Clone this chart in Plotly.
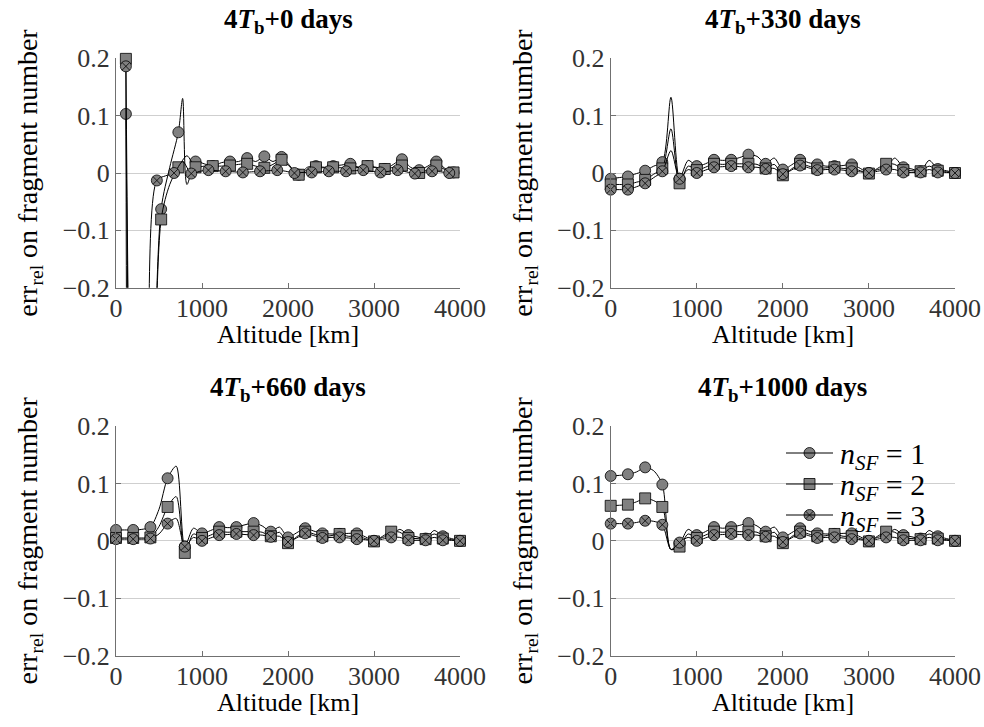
import plotly.graph_objects as go

# ---------------- data ----------------
alt_grid = list(range(0, 4001, 100))  # TR, BL, BR panels

# Top-left panel (4T_b + 0 days)
tl_x_s1 = [115, 225, 325, 425, 525, 625, 725, 775, 825, 925,
           1025, 1125, 1225, 1325, 1425, 1525, 1625, 1725, 1825, 1925,
           2025, 2125, 2225, 2325, 2425, 2525, 2625, 2725, 2825, 2925,
           3025, 3125, 3225, 3325, 3425, 3525, 3625, 3725, 3825, 3925]
tl_y_s1 = [0.103, -1.0, -1.2, -0.50, -0.063, 0.010, 0.071, 0.130, -0.020, 0.020,
           0.016, 0.012, 0.018, 0.020, 0.020, 0.026, 0.020, 0.029, 0.020, 0.028,
           0.012, -0.003, 0.010, 0.012, 0.010, 0.012, 0.014, 0.016, 0.010, 0.012,
           0.010, 0.007, 0.015, 0.024, 0.010, 0.005, 0.012, 0.020, 0.008, 0.001]
tl_m_s1 = [1, 0, 1, 0, 1, 0, 1, 0, 0, 1,
           0, 1, 0, 1, 0, 1, 0, 1, 0, 1,
           0, 1, 0, 1, 0, 1, 0, 1, 0, 1,
           0, 1, 0, 1, 0, 1, 0, 1, 0, 1]
tl_x_s2 = [115, 225, 325, 425, 525, 625, 725, 825, 925,
           1025, 1125, 1225, 1325, 1425, 1525, 1625, 1725, 1825, 1925,
           2025, 2125, 2225, 2325, 2425, 2525, 2625, 2725, 2825, 2925,
           3025, 3125, 3225, 3325, 3425, 3525, 3625, 3725, 3825, 3925]
tl_y_s2 = [0.199, -1.0, -1.2, -0.60, -0.081, -0.020, 0.010, 0.030, 0.010,
           0.012, 0.012, 0.012, 0.013, 0.015, 0.016, 0.012, 0.009, 0.015, 0.023,
           0.010, -0.003, 0.006, 0.010, 0.009, 0.010, 0.009, 0.008, 0.010, 0.012,
           0.009, 0.007, 0.010, 0.013, 0.006, 0.000, 0.006, 0.013, 0.006, 0.001]
tl_x_s3 = [115, 175, 275, 375, 475, 575, 675, 775, 875, 975,
           1075, 1175, 1275, 1375, 1475, 1575, 1675, 1775, 1875, 1975,
           2075, 2175, 2275, 2375, 2475, 2575, 2675, 2775, 2875, 2975,
           3075, 3175, 3275, 3375, 3475, 3575, 3675, 3775, 3875]
tl_y_s3 = [0.186, -1.0, -1.2, -0.60, -0.013, -0.005, 0.000, 0.020, -0.001, 0.003,
           0.005, 0.004, 0.003, 0.002, 0.001, 0.002, 0.003, 0.004, 0.005, 0.003,
           0.000, 0.001, 0.001, 0.002, 0.003, 0.003, 0.003, 0.004, 0.005, 0.003,
           0.001, 0.003, 0.005, 0.002, -0.001, 0.001, 0.003, 0.002, 0.000]

# Top-right panel (4T_b + 330 days)
tr_s1 = [-0.010, -0.008, -0.006, -0.001, 0.004, 0.012, 0.019, 0.132, -0.010, 0.022,
         0.012, 0.016, 0.023, 0.022, 0.023, 0.027, 0.032, 0.029, 0.016, 0.026,
         0.006, 0.014, 0.023, 0.018, 0.015, 0.012, 0.012, 0.013, 0.015, 0.008,
         0.000, 0.006, 0.009, 0.026, 0.010, 0.007, 0.003, 0.022, 0.007, 0.004, 0.000]
tr_s2 = [-0.020, -0.020, -0.020, -0.016, -0.012, -0.002, 0.008, 0.077, -0.018, 0.012,
         0.005, 0.010, 0.016, 0.015, 0.016, 0.016, 0.016, 0.015, 0.008, 0.015,
         -0.004, 0.007, 0.016, 0.012, 0.008, 0.009, 0.010, 0.008, 0.008, 0.004,
         -0.001, 0.008, 0.016, 0.015, 0.005, 0.004, 0.003, 0.012, 0.004, 0.002, 0.000]
tr_s3 = [-0.029, -0.029, -0.029, -0.024, -0.018, -0.008, 0.003, 0.039, -0.010, 0.006,
         0.000, 0.005, 0.010, 0.011, 0.012, 0.011, 0.010, 0.010, 0.007, 0.008,
         -0.002, 0.005, 0.013, 0.009, 0.005, 0.006, 0.006, 0.005, 0.003, 0.002,
         0.000, 0.003, 0.006, 0.006, 0.001, 0.001, 0.001, 0.006, 0.001, 0.001, 0.000]

# Bottom-left panel (4T_b + 660 days)
bl_s1 = [0.019, 0.019, 0.019, 0.020, 0.024, 0.055, 0.109, 0.130, -0.010, 0.022,
         0.013, 0.018, 0.024, 0.023, 0.024, 0.028, 0.031, 0.026, 0.016, 0.024,
         0.006, 0.014, 0.022, 0.017, 0.013, 0.012, 0.012, 0.013, 0.013, 0.007,
         0.000, 0.006, 0.010, 0.020, 0.010, 0.007, 0.004, 0.018, 0.008, 0.004, 0.000]
bl_s2 = [0.005, 0.005, 0.005, 0.005, 0.006, 0.025, 0.059, 0.077, -0.021, 0.012,
         0.005, 0.010, 0.016, 0.015, 0.016, 0.016, 0.016, 0.015, 0.008, 0.015,
         -0.004, 0.007, 0.016, 0.012, 0.008, 0.009, 0.012, 0.008, 0.008, 0.004,
         -0.001, 0.008, 0.016, 0.015, 0.005, 0.004, 0.003, 0.012, 0.004, 0.002, 0.000]
bl_s3 = [0.003, 0.003, 0.003, 0.003, 0.004, 0.012, 0.030, 0.039, -0.010, 0.006,
         0.000, 0.005, 0.010, 0.011, 0.012, 0.011, 0.010, 0.010, 0.007, 0.008,
         -0.002, 0.005, 0.013, 0.009, 0.005, 0.006, 0.006, 0.005, 0.003, 0.002,
         0.000, 0.003, 0.006, 0.006, 0.001, 0.001, 0.001, 0.006, 0.001, 0.001, 0.000]

# Bottom-right panel (4T_b + 1000 days)
br_s1 = [0.113, 0.114, 0.116, 0.120, 0.128, 0.122, 0.098, -0.015, -0.005, 0.020,
         0.010, 0.016, 0.024, 0.022, 0.024, 0.027, 0.031, 0.026, 0.016, 0.024,
         0.006, 0.014, 0.022, 0.017, 0.013, 0.012, 0.012, 0.013, 0.013, 0.007,
         0.000, 0.006, 0.010, 0.020, 0.010, 0.007, 0.004, 0.018, 0.008, 0.004, 0.000]
br_s2 = [0.061, 0.062, 0.063, 0.068, 0.074, 0.070, 0.059, -0.015, -0.010, 0.012,
         0.005, 0.010, 0.016, 0.015, 0.016, 0.016, 0.016, 0.015, 0.008, 0.015,
         -0.004, 0.007, 0.016, 0.012, 0.008, 0.009, 0.012, 0.008, 0.008, 0.004,
         -0.001, 0.008, 0.016, 0.015, 0.005, 0.004, 0.003, 0.012, 0.004, 0.002, 0.000]
br_s3 = [0.030, 0.030, 0.030, 0.032, 0.035, 0.034, 0.028, -0.015, -0.003, 0.006,
         0.000, 0.005, 0.010, 0.011, 0.012, 0.011, 0.010, 0.010, 0.007, 0.008,
         -0.002, 0.005, 0.013, 0.009, 0.005, 0.006, 0.006, 0.005, 0.003, 0.002,
         0.000, 0.003, 0.006, 0.006, 0.001, 0.001, 0.001, 0.006, 0.001, 0.001, 0.000]

panel_titles = ["<b>4<i>T</i><sub>b</sub>+0 days</b>",
                "<b>4<i>T</i><sub>b</sub>+330 days</b>",
                "<b>4<i>T</i><sub>b</sub>+660 days</b>",
                "<b>4<i>T</i><sub>b</sub>+1000 days</b>"]
series_names = ["<i>n</i><sub><i>SF</i></sub> = 1",
                "<i>n</i><sub><i>SF</i></sub> = 2",
                "<i>n</i><sub><i>SF</i></sub> = 3"]
x_title = "Altitude [km]"
y_title = "err<sub>rel</sub> on fragment number"
y_ticks = [-0.2, -0.1, 0, 0.1, 0.2]
y_tick_labels = ["\u22120.2", "\u22120.1", "0", "0.1", "0.2"]
x_ticks = [0, 1000, 2000, 3000, 4000]
x_tick_labels = ["0", "1000", "2000", "3000", "4000"]

# ---------------- styling ----------------
FW, FH = 984, 727
FONT = "Liberation Serif"
symbols = ["circle", "square", "circle-x"]
MFILL = "#808080"
AXC = "#707070"


def px(x):
    return x / FW


def py(y):
    return 1 - y / FH


# panel pixel boxes (left, right, top, bottom)
boxes = [(116, 460, 58.3, 287.7), (610.7, 955, 58.3, 287.7),
         (116, 460, 426, 655.7), (610.7, 955, 426, 655.7)]

fig = go.Figure()

panels = [
    [(tl_x_s1, tl_y_s1, tl_m_s1), (tl_x_s2, tl_y_s2, None), (tl_x_s3, tl_y_s3, None)],
    [(alt_grid, tr_s1, None), (alt_grid, tr_s2, None), (alt_grid, tr_s3, None)],
    [(alt_grid, bl_s1, None), (alt_grid, bl_s2, None), (alt_grid, bl_s3, None)],
    [(alt_grid, br_s1, None), (alt_grid, br_s2, None), (alt_grid, br_s3, None)],
]

for p, series in enumerate(panels):
    xa = "x" if p == 0 else f"x{p+1}"
    ya = "y" if p == 0 else f"y{p+1}"
    for s, (xs, ys, flags) in enumerate(series):
        fig.add_trace(go.Scatter(
            x=xs, y=ys, mode="lines", xaxis=xa, yaxis=ya,
            line=dict(color="black", width=1, shape="spline", smoothing=0.8),
            showlegend=False, hoverinfo="skip"))
        if flags is None:
            flags = [1 if i % 2 == 0 else 0 for i in range(len(xs))]
        keep = [i for i in range(len(xs)) if flags[i] and -0.2 <= ys[i] <= 0.2]
        fig.add_trace(go.Scatter(
            x=[xs[i] for i in keep], y=[ys[i] for i in keep],
            mode="markers", xaxis=xa, yaxis=ya, cliponaxis=False,
            marker=dict(symbol=symbols[s], size=11, color=MFILL,
                        line=dict(color="black", width=0.8)),
            showlegend=False, hoverinfo="skip"))

# ---- legend (bottom-right panel), drawn on a full-page helper axis ----
leg_rows = [453, 484, 515]
leg_x0, leg_x1, leg_txt = 786, 833, 838
shapes = []
annotations = []
for s, yy in enumerate(leg_rows):
    shapes.append(dict(type="line", xref="paper", yref="paper",
                       x0=px(leg_x0), x1=px(leg_x1), y0=py(yy), y1=py(yy),
                       line=dict(color="black", width=1)))
    fig.add_trace(go.Scatter(
        x=[(leg_x0 + leg_x1) / 2], y=[yy], mode="markers",
        xaxis="x5", yaxis="y5", cliponaxis=False, showlegend=False,
        hoverinfo="skip",
        marker=dict(symbol=symbols[s], size=11, color=MFILL,
                    line=dict(color="black", width=0.8))))
    annotations.append(dict(
        text=series_names[s], x=px(leg_txt), y=py(yy + 3),
        xref="paper", yref="paper", xanchor="left", yanchor="middle",
        showarrow=False, font=dict(family=FONT, size=30, color="black")))

layout = dict(
    width=FW, height=FH, margin=dict(l=0, r=0, t=0, b=0),
    paper_bgcolor="white", plot_bgcolor="rgba(0,0,0,0)",
    font=dict(family=FONT, size=25, color="#333333"),
    showlegend=False,
    xaxis5=dict(domain=[0, 1], range=[0, FW], visible=False, anchor="y5",
                fixedrange=True),
    yaxis5=dict(domain=[0, 1], range=[FH, 0], visible=False, anchor="x5",
                fixedrange=True),
)

for p, (l, r, t, b) in enumerate(boxes):
    xkey = "xaxis" if p == 0 else f"xaxis{p+1}"
    ykey = "yaxis" if p == 0 else f"yaxis{p+1}"
    ya = "y" if p == 0 else f"y{p+1}"
    xa = "x" if p == 0 else f"x{p+1}"
    layout[xkey] = dict(
        domain=[px(l), px(r)], anchor=ya, range=[0, 4000],
        tickvals=x_ticks, ticktext=x_tick_labels,
        ticks="inside", ticklen=5, tickcolor=AXC, tickwidth=1,
        showline=True, linecolor=AXC, linewidth=1,
        showgrid=False, zeroline=False, automargin=False,
        ticklabelstandoff=-3,
        tickfont=dict(family=FONT, size=26, color="#333333"),
    )
    layout[ykey] = dict(
        domain=[py(b), py(t)], anchor=xa, range=[-0.2, 0.2],
        tickvals=y_ticks, ticktext=y_tick_labels,
        ticks="inside", ticklen=5, tickcolor=AXC, tickwidth=1,
        showline=True, linecolor=AXC, linewidth=1,
        showgrid=True, gridcolor="#cfcfcf", gridwidth=1,
        zeroline=False, automargin=False,
        tickfont=dict(family=FONT, size=26, color="#333333"),
        title=dict(text=y_title, standoff=16,
                   font=dict(family=FONT, size=28, color="black")),
    )
    # panel title
    annotations.append(dict(
        text=panel_titles[p], x=px((l + r) / 2), y=py(t - 37),
        xref="paper", yref="paper", xanchor="center", yanchor="middle",
        showarrow=False, font=dict(family=FONT, size=27, color="black")))
    # x-axis title
    annotations.append(dict(
        text=x_title, x=px((l + r) / 2), y=py(b + 47),
        xref="paper", yref="paper", xanchor="center", yanchor="middle",
        showarrow=False, font=dict(family=FONT, size=26, color="black")))

layout["annotations"] = annotations
layout["shapes"] = shapes
fig.update_layout(**layout)
fig.write_html(
    "out.html",
    config={"displayModeBar": False},
    post_script="document.body.style.margin='0px';"
                "document.body.style.overflow='hidden';")
